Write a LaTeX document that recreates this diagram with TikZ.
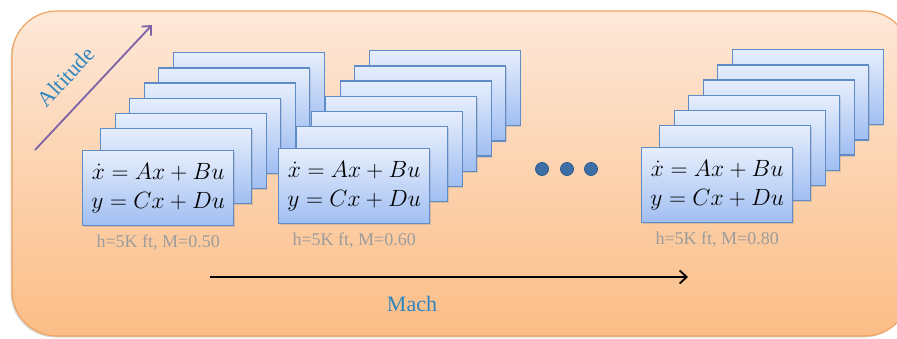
\RequirePackage{fix-cm}
\documentclass[tikz,border=0pt]{standalone}
\usepackage[no-math]{fontspec}
\setmainfont{Liberation Serif}
\usetikzlibrary{arrows.meta,shadows}
\definecolor{bgtop}{HTML}{FDE8D8}
\definecolor{bgbot}{HTML}{FBBD86}
\definecolor{bgborder}{HTML}{F0A462}
\definecolor{cardtop}{HTML}{E6EEFC}
\definecolor{cardbot}{HTML}{A0BEF2}
\definecolor{cardborder}{HTML}{5F8CC6}
\definecolor{capgray}{HTML}{9C9C9C}
\definecolor{axisblue}{HTML}{2E86C1}
\definecolor{altpurple}{HTML}{7D62A8}
\definecolor{dotblue}{HTML}{3D6FA6}
\definecolor{dotborder}{HTML}{2C5A8A}
\tikzset{
  card/.style={draw=cardborder, line width=1.3pt, top color=cardtop, bottom color=cardbot,
    minimum width=151pt, minimum height=75pt, inner sep=0pt, anchor=north west, align=center,
    drop shadow={opacity=0.25, shadow xshift=1pt, shadow yshift=-1.5pt},
    font=\fontsize{23.5}{28}\selectfont},
  caption/.style={text=capgray, font=\fontsize{18}{20}\selectfont, inner sep=0pt},
  axislabel/.style={text=axisblue, font=\fontsize{22}{26}\selectfont, inner sep=0pt},
  dotnode/.style={circle, fill=dotblue, draw=dotborder, line width=0.8pt, minimum size=13pt, inner sep=0pt},
  altarrow/.style={draw=altpurple, line width=1.8pt, -{Straight Barb[length=7pt,width=13pt]}},
  macharrow/.style={draw=black, line width=1.8pt, -{Straight Barb[length=7pt,width=13pt]}},
}
\newcommand\eqtext{$\dot{x} = Ax + Bu$\\[1pt]$y = Cx + Du$}
\newcommand\mkstack[4]{%
  \foreach \i in {6,5,...,1}{%
    \pgfmathsetmacro\cx{#2+18+14.5*(\i-1)}%
    \pgfmathsetmacro\cy{#3-22-15.2*(\i-1)}%
    \node[card] (#1c\i) at (\cx,\cy) {};
  }%
  \node[card] (#1c0) at (#2,#3) {\eqtext};
  \node[caption] (#1lab) at ([yshift=-16pt]#1c0.south) {#4};
}
\begin{document}
\begin{tikzpicture}[x=1pt,y=-1pt]
\useasboundingbox (0,0) rectangle (897,338);
% background panel
\draw[draw=bgborder, line width=1.2pt, top color=bgtop, bottom color=bgbot, rounded corners=45pt,
  drop shadow={opacity=0.3, shadow xshift=-1.5pt, shadow yshift=-1.5pt}]
  (12,11) rectangle (910,336);
% altitude axis
\coordinate (altS) at (35,150);
\coordinate (altE) at (152,25);
\draw[altarrow] (altS) -- (altE);
\node[axislabel, rotate=47] (altlab) at (66,77) {Altitude};
% stacks
\mkstack{a}{82}{150}{h=5K ft, M=0.50}
\mkstack{b}{278}{148}{h=5K ft, M=0.60}
\mkstack{c}{641}{147}{h=5K ft, M=0.80}
% ellipsis dots
\node[dotnode] (d1) at (542,169) {};
\node[dotnode] (d2) at (567,169) {};
\node[dotnode] (d3) at (591,169) {};
% mach axis
\coordinate (machS) at (210,277);
\coordinate (machE) at (688,277);
\draw[macharrow] (machS) -- (machE);
\node[axislabel] (machlab) at (412,304) {Mach};
\end{tikzpicture}
\end{document}
